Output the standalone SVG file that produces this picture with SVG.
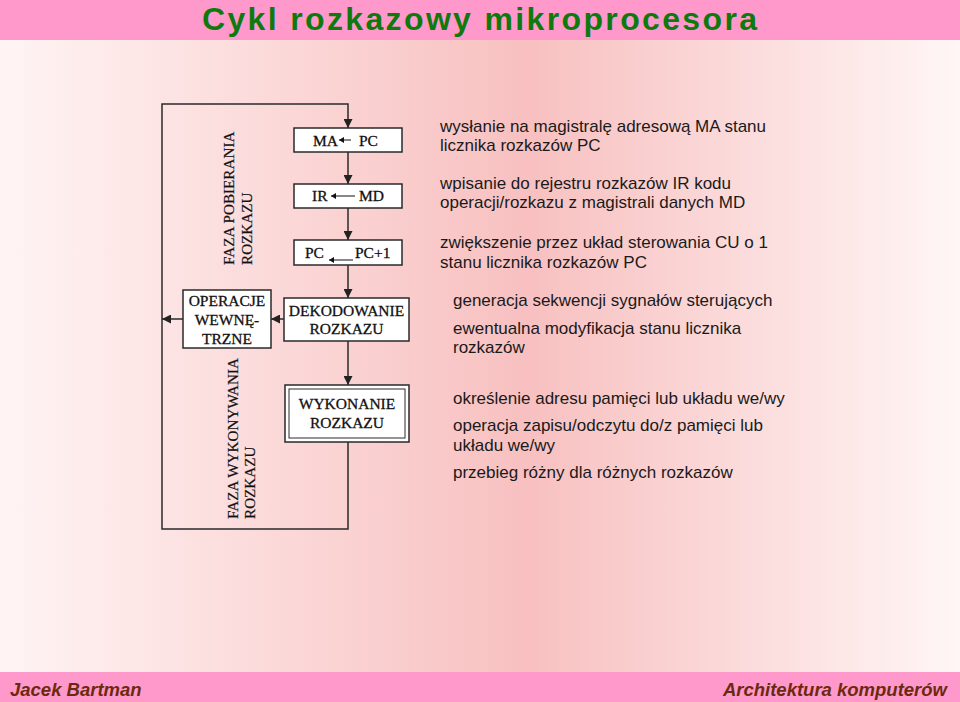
<svg xmlns="http://www.w3.org/2000/svg" width="960" height="702" viewBox="0 0 960 702">
<defs>
<linearGradient id="bg" x1="0" y1="0" x2="1" y2="0">
<stop offset="0" stop-color="#FFF4F4"/>
<stop offset="0.55" stop-color="#F8C0C0"/>
<stop offset="1" stop-color="#FFF6F6"/>
</linearGradient>
<marker id="ah" markerUnits="userSpaceOnUse" markerWidth="10" markerHeight="9" refX="9" refY="4.5" orient="auto">
<path d="M0,0 L9,4.5 L0,9 z" fill="#222"/>
</marker>
<marker id="sm" markerUnits="userSpaceOnUse" markerWidth="6" markerHeight="6" refX="5" refY="3" orient="auto">
<path d="M0,0 L5,3 L0,6 z" fill="#111"/>
</marker>
<style>
.box{fill:#fff;stroke:#2a2a2a;stroke-width:1.5}
.tm{font-family:"Liberation Serif","Times New Roman",serif;font-size:15.5px;fill:#111;stroke:#111;stroke-width:0.3}
.rt{font-family:"Liberation Serif","Times New Roman",serif;font-size:15.2px;fill:#111;stroke:#111;stroke-width:0.2}
.ds{font-family:"Liberation Sans",Arial,sans-serif;font-size:17px;fill:#1a1a1a}
.con{fill:none;stroke:#2a2a2a;stroke-width:1.5}
.mini{stroke:#111;stroke-width:1;fill:none}
.foot{font-family:"Liberation Sans",Arial,sans-serif;font-size:18.5px;font-weight:bold;font-style:italic;fill:#6B2A0E}
</style>
</defs>
<rect x="0" y="0" width="960" height="702" fill="url(#bg)"/>
<rect x="0" y="0" width="960" height="40" fill="#FF99CC"/>
<rect x="0" y="672" width="960" height="30" fill="#FF99CC"/>
<text x="202" y="30" textLength="555" lengthAdjust="spacing" font-family="'Liberation Sans', Arial, sans-serif" font-size="32" font-weight="bold" fill="#0E7A0E">Cykl rozkazowy mikroprocesora</text>
<text class="foot" x="10" y="696">Jacek Bartman</text>
<text class="foot" x="947" y="696" text-anchor="end">Architektura komputerów</text>

<g id="connectors">
<path class="con" d="M348,442 V529 H162 V104 H348 V128" marker-end="url(#ah)"/>
<path class="con" d="M348,152 V184" marker-end="url(#ah)"/>
<path class="con" d="M348,208 V240" marker-end="url(#ah)"/>
<path class="con" d="M348,265 V298" marker-end="url(#ah)"/>
<path class="con" d="M348,341 V385" marker-end="url(#ah)"/>
<path class="con" d="M284,319 H271" marker-end="url(#ah)"/>
<path class="con" d="M183,319 H162" marker-end="url(#ah)"/>
</g>

<g id="phase-fetch-label">
<text class="rt" transform="translate(234,265) rotate(-90)">FAZA POBIERANIA</text>
<text class="rt" transform="translate(252,265) rotate(-90)">ROZKAZU</text>
</g>
<g id="phase-exec-label">
<text class="rt" transform="translate(238,519) rotate(-90)">FAZA WYKONYWANIA</text>
<text class="rt" transform="translate(255,519) rotate(-90)">ROZKAZU</text>
</g>

<g id="node-ma">
<rect class="box" x="294" y="128" width="108" height="24"/>
<text class="tm" x="313" y="146" font-size="15">MA</text>
<line class="mini" x1="351" y1="140" x2="339" y2="140" marker-end="url(#sm)"/>
<text class="tm" x="359" y="146" font-size="15">PC</text>
</g>
<g id="node-ir">
<rect class="box" x="294" y="184" width="108" height="24"/>
<text class="tm" x="312" y="201" font-size="15">IR</text>
<line class="mini" x1="355" y1="196" x2="331" y2="196" marker-end="url(#sm)"/>
<text class="tm" x="359" y="201" font-size="15">MD</text>
</g>
<g id="node-pc">
<rect class="box" x="294" y="240" width="108" height="25"/>
<text class="tm" x="305" y="258" font-size="15">PC</text>
<line class="mini" x1="353" y1="260" x2="329" y2="260" marker-end="url(#sm)"/>
<text class="tm" x="355" y="258" font-size="15">PC+1</text>
</g>
<g id="node-dekodowanie">
<rect class="box" x="284" y="298" width="125" height="43"/>
<text class="tm" x="346.5" y="316" text-anchor="middle">DEKODOWANIE</text>
<text class="tm" x="346.5" y="334" text-anchor="middle">ROZKAZU</text>
</g>
<g id="node-operacje">
<rect class="box" x="183" y="290" width="88" height="58"/>
<text class="tm" x="227" y="306" text-anchor="middle" font-size="16">OPERACJE</text>
<text class="tm" x="227" y="325" text-anchor="middle" font-size="16">WEWNĘ-</text>
<text class="tm" x="227" y="344" text-anchor="middle" font-size="16">TRZNE</text>
</g>
<g id="node-wykonanie">
<rect class="box" x="285" y="385" width="124" height="57"/>
<rect x="289" y="389" width="116" height="49" fill="none" stroke="#2a2a2a" stroke-width="1"/>
<text class="tm" x="347" y="409" text-anchor="middle">WYKONANIE</text>
<text class="tm" x="347" y="428" text-anchor="middle">ROZKAZU</text>
</g>

<g id="descriptions">
<text class="ds" x="440" y="132">wysłanie na magistralę adresową MA stanu</text>
<text class="ds" x="440" y="151">licznika rozkazów PC</text>
<text class="ds" x="440" y="189">wpisanie do rejestru rozkazów IR kodu</text>
<text class="ds" x="440" y="208">operacji/rozkazu z magistrali danych MD</text>
<text class="ds" x="440" y="248">zwiększenie przez układ sterowania CU o 1</text>
<text class="ds" x="440" y="268">stanu licznika rozkazów PC</text>
<text class="ds" x="453" y="306">generacja sekwencji sygnałów sterujących</text>
<text class="ds" x="453" y="334">ewentualna modyfikacja stanu licznika</text>
<text class="ds" x="453" y="353">rozkazów</text>
<text class="ds" x="453" y="404">określenie adresu pamięci lub układu we/wy</text>
<text class="ds" x="453" y="431">operacja zapisu/odczytu do/z pamięci lub</text>
<text class="ds" x="453" y="451">układu we/wy</text>
<text class="ds" x="453" y="478">przebieg różny dla różnych rozkazów</text>
</g>
</svg>
